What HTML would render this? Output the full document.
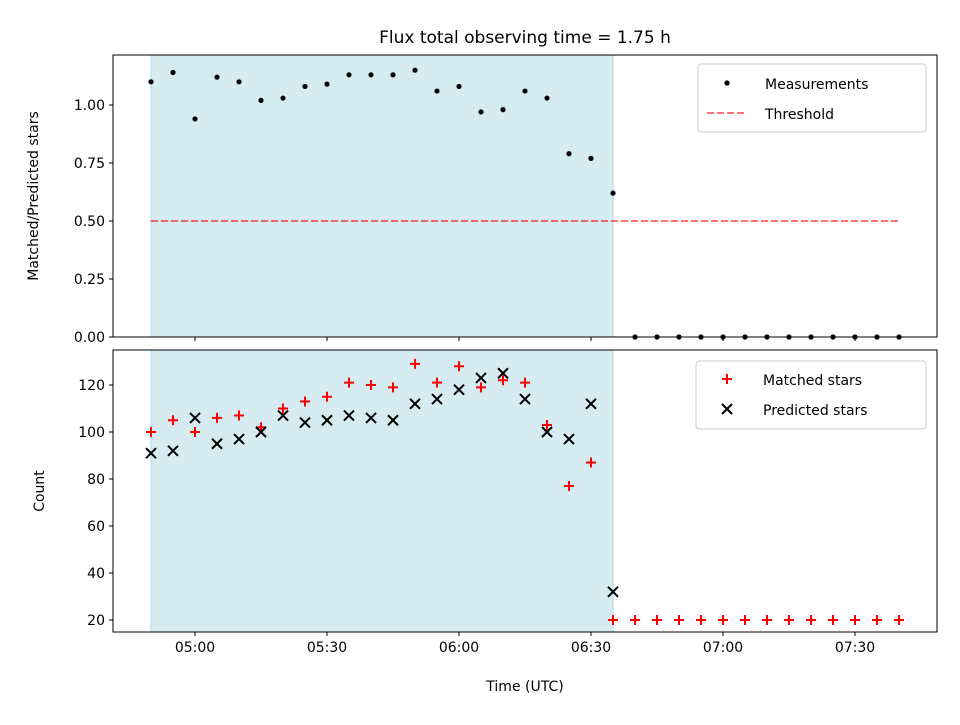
<!DOCTYPE html>
<html><head><meta charset="utf-8"><style>
body{margin:0;background:#fff;font-family:"Liberation Sans","DejaVu Sans",sans-serif}
svg text{font-family:"DejaVu Sans","Liberation Sans",sans-serif;fill:#000}
</style></head><body>
<svg id="c" width="960" height="720" xmlns="http://www.w3.org/2000/svg"></svg>
<script>
const times=["04:50","04:55","05:00","05:05","05:10","05:15","05:20","05:25","05:30","05:35","05:40","05:45","05:50","05:55","06:00","06:05","06:10","06:15","06:20","06:25","06:30","06:35","06:40","06:45","06:50","06:55","07:00","07:05","07:10","07:15","07:20","07:25","07:30","07:35","07:40"];
const ratio=[1.10,1.14,0.94,1.12,1.10,1.02,1.03,1.08,1.09,1.13,1.13,1.13,1.15,1.06,1.08,0.97,0.98,1.06,1.03,0.79,0.77,0.62,0,0,0,0,0,0,0,0,0,0,0,0,0];
const matched=[100,105,100,106,107,102,110,113,115,121,120,119,129,121,128,119,122,121,103,77,87,20,20,20,20,20,20,20,20,20,20,20,20,20,20];
const predicted=[91,92,106,95,97,100,107,104,105,107,106,105,112,114,118,123,125,114,100,97,112,32,null,null,null,null,null,null,null,null,null,null,null,null,null];
const xTicks=["05:00","05:30","06:00","06:30","07:00","07:30"];
const topTicks=[0,0.25,0.5,0.75,1.0];
const botTicks=[20,40,60,80,100,120];
const threshold=0.5;
const shadeStart="04:50", shadeEnd="06:35";

const NS="http://www.w3.org/2000/svg";
const svg=document.getElementById('c');
function mk(t,a,p){const e=document.createElementNS(NS,t);for(const k in a)e.setAttribute(k,a[k]);(p||svg).appendChild(e);return e;}
function mins(s){const [h,m]=s.split(':').map(Number);return h*60+m;}
const X=t=>195+(mins(t)-300)*4.4;
const L=113,R=937;
const yT=v=>337-v*232;
const yB=v=>620-(v-20)*2.35;

function axesFrame(top,bot,name){
 const sh=mk('rect',{x:X(shadeStart),y:top,width:X(shadeEnd)-X(shadeStart),height:bot-top,fill:'#add8e6','fill-opacity':0.5,stroke:'#add8e6'});
 
}
function frame(top,bot,name){
 const f=mk('rect',{x:L,y:top,width:R-L,height:bot-top,fill:'none',stroke:'#000','stroke-width':1});
 
 xTicks.forEach(t=>{mk('line',{x1:X(t),x2:X(t),y1:bot,y2:bot+4,stroke:'#000'});});
}
// top panel
axesFrame(55,337,'top');
const th=mk('line',{x1:X(times[0]),x2:X(times[times.length-1]),y1:yT(threshold),y2:yT(threshold),stroke:'#ff0000','stroke-opacity':0.55,'stroke-width':2,'stroke-dasharray':'7,3'});

ratio.forEach((v,i)=>{const c=mk('circle',{cx:X(times[i]),cy:yT(v),r:2.6,fill:'#000'});
 });
frame(55,337,'top');
topTicks.forEach(v=>{mk('line',{x1:L-4,x2:L,y1:yT(v),y2:yT(v),stroke:'#000'});
 const t=mk('text',{x:L-8,y:yT(v)+5,'text-anchor':'end','font-size':14});t.textContent=v.toFixed(2);
 });
let t=mk('text',{x:38,y:196,'text-anchor':'middle','font-size':14,transform:'rotate(-90 38 196)'});t.textContent='Matched/Predicted stars';

t=mk('text',{x:525,y:43,'text-anchor':'middle','font-size':17});t.textContent='Flux total observing time = 1.75 h';


// bottom panel
axesFrame(350,632,'bottom');
matched.forEach((v,i)=>{const g=mk('g',{});
 const x=X(times[i]),y=yB(v);mk('path',{d:`M${x-5} ${y}H${x+5}M${x} ${y-5}V${y+5}`,stroke:'#f00','stroke-width':2},g);});
predicted.forEach((v,i)=>{if(v===null)return;const g=mk('g',{});
 const x=X(times[i]),y=yB(v);mk('path',{d:`M${x-5} ${y-5}L${x+5} ${y+5}M${x-5} ${y+5}L${x+5} ${y-5}`,stroke:'#000','stroke-width':2},g);});
frame(350,632,'bottom');
botTicks.forEach(v=>{mk('line',{x1:L-4,x2:L,y1:yB(v),y2:yB(v),stroke:'#000'});
 const t=mk('text',{x:L-8,y:yB(v)+5,'text-anchor':'end','font-size':14});t.textContent=v;
 });
xTicks.forEach(v=>{const t=mk('text',{x:X(v),y:652,'text-anchor':'middle','font-size':14});t.textContent=v;
 });
t=mk('text',{x:44,y:491,'text-anchor':'middle','font-size':14,transform:'rotate(-90 44 491)'});t.textContent='Count';

t=mk('text',{x:525,y:691,'text-anchor':'middle','font-size':14});t.textContent='Time (UTC)';


// legends
let lg=mk('g',{});
mk('rect',{x:698,y:64,width:228,height:68,rx:3,fill:'#fff','fill-opacity':0.8,stroke:'#ccc'},lg);
mk('circle',{cx:727,cy:83,r:2.6,fill:'#000'},lg);
let e=mk('text',{x:765,y:89,'font-size':14},lg);e.textContent='Measurements';
mk('line',{x1:707,x2:747,y1:113,y2:113,stroke:'#ff0000','stroke-opacity':0.55,'stroke-width':2,'stroke-dasharray':'7,3'},lg);
e=mk('text',{x:765,y:119,'font-size':14},lg);e.textContent='Threshold';
lg=mk('g',{});
mk('rect',{x:696,y:361,width:230,height:68,rx:3,fill:'#fff','fill-opacity':0.8,stroke:'#ccc'},lg);
mk('path',{d:'M722 379H732M727 374V384',stroke:'#f00','stroke-width':2},lg);
e=mk('text',{x:763,y:385,'font-size':14},lg);e.textContent='Matched stars';
mk('path',{d:'M722 404L732 414M722 414L732 404',stroke:'#000','stroke-width':2},lg);
e=mk('text',{x:763,y:415,'font-size':14},lg);e.textContent='Predicted stars';
</script>
</body></html>
